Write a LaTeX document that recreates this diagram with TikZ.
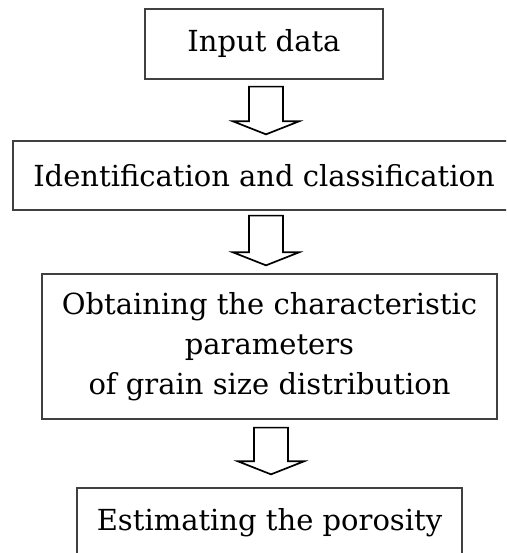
\documentclass[tikz,border=0pt]{standalone}
\usepackage{fontspec}
\setmainfont{DejaVu Serif}
\usetikzlibrary{calc}

% hollow block arrow between two boxes: from, to, centre x, top gap, tip gap
\newcommand{\blockarrow}[5]{%
    \draw[hollow] let \p1=(#1.south), \p2=(#2.north) in
        (#3-17,\y1-#4) -- (#3-17,\y2+#5+13) -- (#3-33,\y2+#5+13) -- (#3,\y2+#5)
        -- (#3+33,\y2+#5+13) -- (#3+17,\y2+#5+13) -- (#3+17,\y1-#4) -- cycle;
}

\begin{document}
\begin{tikzpicture}[x=1pt, y=1pt,
        box/.style={rectangle, draw=black!75, line width=1.3pt, inner sep=0pt, align=center, font=\fontsize{29}{40}\selectfont},
        hollow/.style={draw=black, line width=1.7pt, line join=miter, fill=white},
    ]
        \useasboundingbox (0,0) rectangle (506,553);
        \clip (0,0) rectangle (506,553);

        % Steps
        \node[box, minimum width=238pt, minimum height=70pt]  (input) at (264,   509)   {Input data};
        \node[box, minimum width=502pt, minimum height=69pt]  (ident) at (264,   377.5) {Identification and classification};
        \node[box, minimum width=455pt, minimum height=145pt] (param) at (269.5, 206.5) {Obtaining the characteristic\\parameters\\of grain size distribution};
        \node[box, minimum width=385pt, minimum height=69pt]  (poros) at (269.5, 30.5)  {Estimating the porosity};

        % Arrows
        \blockarrow{input}{ident}{266}{7}{6}
        \blockarrow{ident}{param}{266}{5}{8}
        \blockarrow{param}{poros}{271}{8}{13}
    \end{tikzpicture}
\end{document}
